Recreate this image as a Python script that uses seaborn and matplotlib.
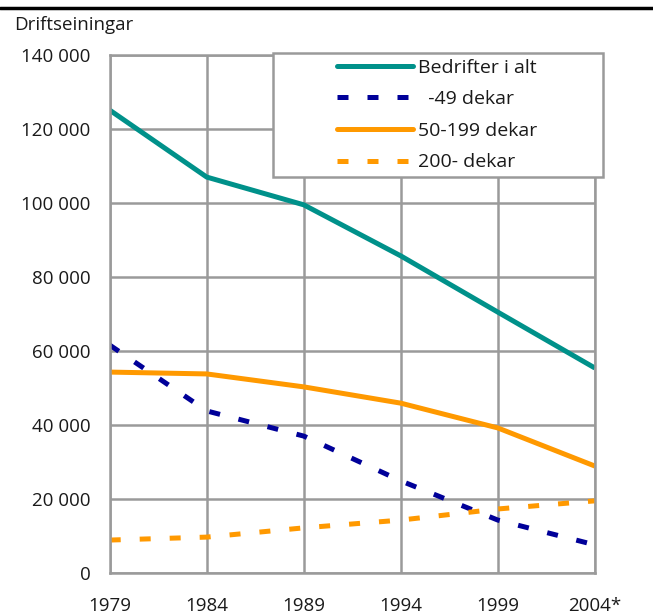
import numpy as np
import pandas as pd
import seaborn as sns
import matplotlib.pyplot as plt
from matplotlib.lines import Line2D
from matplotlib.patches import Rectangle

years = ["1979", "1984", "1989", "1994", "1999", "2004*"]
alle = [125100, 107000, 99500, 85700, 70500, 55400]
small = [61600, 43800, 37000, 24900, 14300, 7600]
medium = [54300, 53800, 50300, 45900, 39200, 28900]
large = [8900, 9700, 12200, 14300, 17300, 19500]
series_names = ["Bedrifter i alt", "  -49 dekar", "50-199 dekar", "200- dekar"]
colors = ["#00918A", "#000099", "#FF9900", "#FF9900"]
dashed = [False, True, False, True]

sns.set_style("white")
plt.rcParams['font.family'] = ['Open Sans', 'DejaVu Sans']

fig = plt.figure(figsize=(6.53, 6.15), dpi=100)
ax = fig.add_axes([0.168, 0.0683, 0.743, 0.8423])

xpos = np.arange(len(years))
handles = []
for name, vals, c, d in zip(series_names, [alle, small, medium, large], colors, dashed):
    df = pd.DataFrame({"x": xpos, "y": vals})
    ls = (0, (2.2, 3.8)) if d else "-"
    sns.lineplot(data=df, x="x", y="y", ax=ax, color=c, linewidth=3.6,
                 linestyle=ls, solid_capstyle="butt", dash_capstyle="butt")
    handles.append(Line2D([], [], color=c, linewidth=3.6, linestyle=ls,
                          solid_capstyle="round", dash_capstyle="butt"))

ax.set_xlim(0, len(years) - 1)
ax.set_ylim(0, 140000)
ax.set_xticks(xpos)
ax.set_xticklabels(years)
yt = np.arange(0, 140001, 20000)
ax.set_yticks(yt)
ax.set_yticklabels([f"{v:,}".replace(",", " ") for v in yt])
ax.grid(True, color="#9a9a9a", linewidth=1.8)
ax.set_axisbelow(True)
for s in ax.spines.values():
    s.set_color("#9a9a9a")
    s.set_linewidth(1.8)
ax.tick_params(axis="both", length=6, width=1.8, color="#9a9a9a",
               labelsize=13.5, labelcolor="#1a1a1a")
ax.tick_params(axis="x", pad=11)
ax.tick_params(axis="y", pad=8)
ax.set_xlabel("")
ax.set_ylabel("")

# legend box
box = Rectangle((0.336, 0.7645), 0.6805, 0.2395, transform=ax.transAxes,
                facecolor="white", edgecolor="#9a9a9a", linewidth=1.8,
                clip_on=False, zorder=4)
ax.add_patch(box)
leg = ax.legend(handles, series_names, loc="upper left",
                bbox_to_anchor=(0.468, 0.993), fontsize=14, frameon=False,
                handlelength=3.9, handletextpad=0.3, labelspacing=0.7,
                borderpad=0, borderaxespad=0)
leg.set_zorder(5)
for t in leg.get_texts():
    t.set_color("#1a1a1a")

fig.text(0.022, 0.96, "Driftseiningar", fontsize=13.5, color="#1a1a1a",
         va="center")
fig.add_artist(Line2D([0, 1], [0.987, 0.987], color="black", linewidth=2.5,
                      transform=fig.transFigure))

fig.savefig("out.png", dpi=100)
